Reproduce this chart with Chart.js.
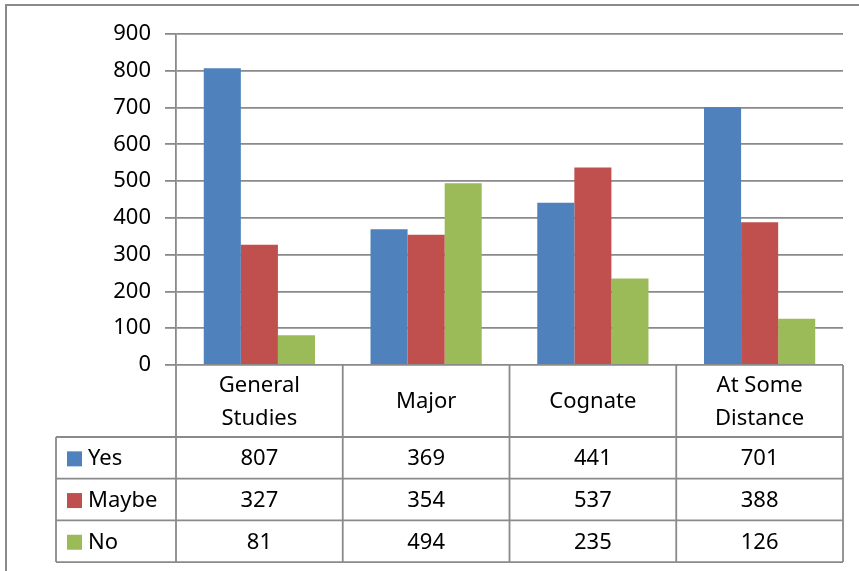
<!DOCTYPE html>
<html>
<head>
<meta charset="utf-8">
<script src="https://cdn.jsdelivr.net/npm/chart.js@4/dist/chart.umd.min.js"></script>
<style>
  html, body { margin: 0; padding: 0; background: #fff; }
  #wrap { width: 859px; height: 571px; }
</style>
</head>
<body>
<div id="wrap"><canvas id="chart" width="859" height="571"></canvas></div>
<script>
// category labels (one entry per line)
const categories = [['General', 'Studies'], ['Major'], ['Cognate'], ['At Some', 'Distance']];
const seriesNames = ['Yes', 'Maybe', 'No'];
const yesValues = [807, 369, 441, 701];
const maybeValues = [327, 354, 537, 388];
const noValues = [81, 494, 235, 126];
const seriesColors = ['#4F81BD', '#C0504D', '#9BBB59'];

const FONT = "'Noto Sans', sans-serif";
const LINE = '#8a8a8a';

/** data table under the plot, drawn from the x scale */
const dataTable = {
  id: 'dataTable',
  afterDraw(chart) {
    const ctx = chart.ctx;
    const x = chart.scales.x;
    const area = chart.chartArea;
    const n = categories.length;
    const colW = (area.right - area.left) / n;
    const top = area.bottom;
    const headH = 72;
    const rowH = 41.7;
    const leftCol = 56;
    const rowsTop = top + headH;
    const bottom = rowsTop + rowH * seriesNames.length;

    ctx.save();
    // outer frame of the chart object
    ctx.strokeStyle = LINE;
    ctx.lineWidth = 2;
    ctx.beginPath();
    ctx.moveTo(6, 600);
    ctx.lineTo(6, 5);
    ctx.lineTo(900, 5);
    ctx.stroke();

    ctx.lineWidth = 1.8;
    ctx.beginPath();
    // vertical column lines
    for (let i = 0; i <= n; i++) {
      const px = area.left + colW * i;
      ctx.moveTo(px, top);
      ctx.lineTo(px, bottom);
    }
    ctx.moveTo(leftCol, rowsTop);
    ctx.lineTo(leftCol, bottom);
    // horizontal row lines
    for (let r = 0; r <= seriesNames.length; r++) {
      const py = rowsTop + rowH * r;
      ctx.moveTo(leftCol, py);
      ctx.lineTo(area.right, py);
    }
    ctx.stroke();

    ctx.fillStyle = '#000';
    ctx.font = '22px ' + FONT;
    ctx.textAlign = 'center';
    ctx.textBaseline = 'middle';
    // category headers
    categories.forEach((lines, i) => {
      const cx = x.getPixelForValue(i);
      const cy = top + headH / 2 + 1;
      const lh = 33;
      lines.forEach((t, k) => {
        ctx.fillText(t, cx, cy + (k - (lines.length - 1) / 2) * lh);
      });
    });
    // values + legend keys
    chart.data.datasets.forEach((ds, r) => {
      const cy = rowsTop + rowH * r + rowH / 2 + 1;
      ctx.fillStyle = ds.backgroundColor;
      ctx.fillRect(leftCol + 11, cy - 7.5, 15, 15);
      ctx.fillStyle = '#000';
      ctx.textAlign = 'left';
      ctx.fillText(ds.label, leftCol + 32, cy);
      ctx.textAlign = 'center';
      ds.data.forEach((v, i) => {
        ctx.fillText(String(v), x.getPixelForValue(i), cy);
      });
    });
    ctx.restore();
  }
};

new Chart(document.getElementById('chart'), {
  type: 'bar',
  data: {
    labels: categories.map(c => c.join(' ')),
    datasets: [
      { label: seriesNames[0], data: yesValues, backgroundColor: seriesColors[0] },
      { label: seriesNames[1], data: maybeValues, backgroundColor: seriesColors[1] },
      { label: seriesNames[2], data: noValues, backgroundColor: seriesColors[2] }
    ]
  },
  options: {
    responsive: false,
    animation: false,
    devicePixelRatio: 1,
    layout: { padding: { top: 34, right: 16, bottom: 206, left: 0 } },
    datasets: { bar: { categoryPercentage: 0.667, barPercentage: 1.0 } },
    plugins: {
      legend: { display: false },
      tooltip: { enabled: false }
    },
    scales: {
      x: { display: false },
      y: {
        min: 0,
        max: 900,
        ticks: { stepSize: 100, color: '#000', padding: 14, font: { family: FONT, size: 22 } },
        grid: { color: LINE, lineWidth: 1.8, tickLength: 11 },
        border: { color: LINE, width: 1.8 },
        afterFit(scale) { scale.width = 176; }
      }
    }
  },
  plugins: [dataTable]
});
</script>
</body>
</html>
